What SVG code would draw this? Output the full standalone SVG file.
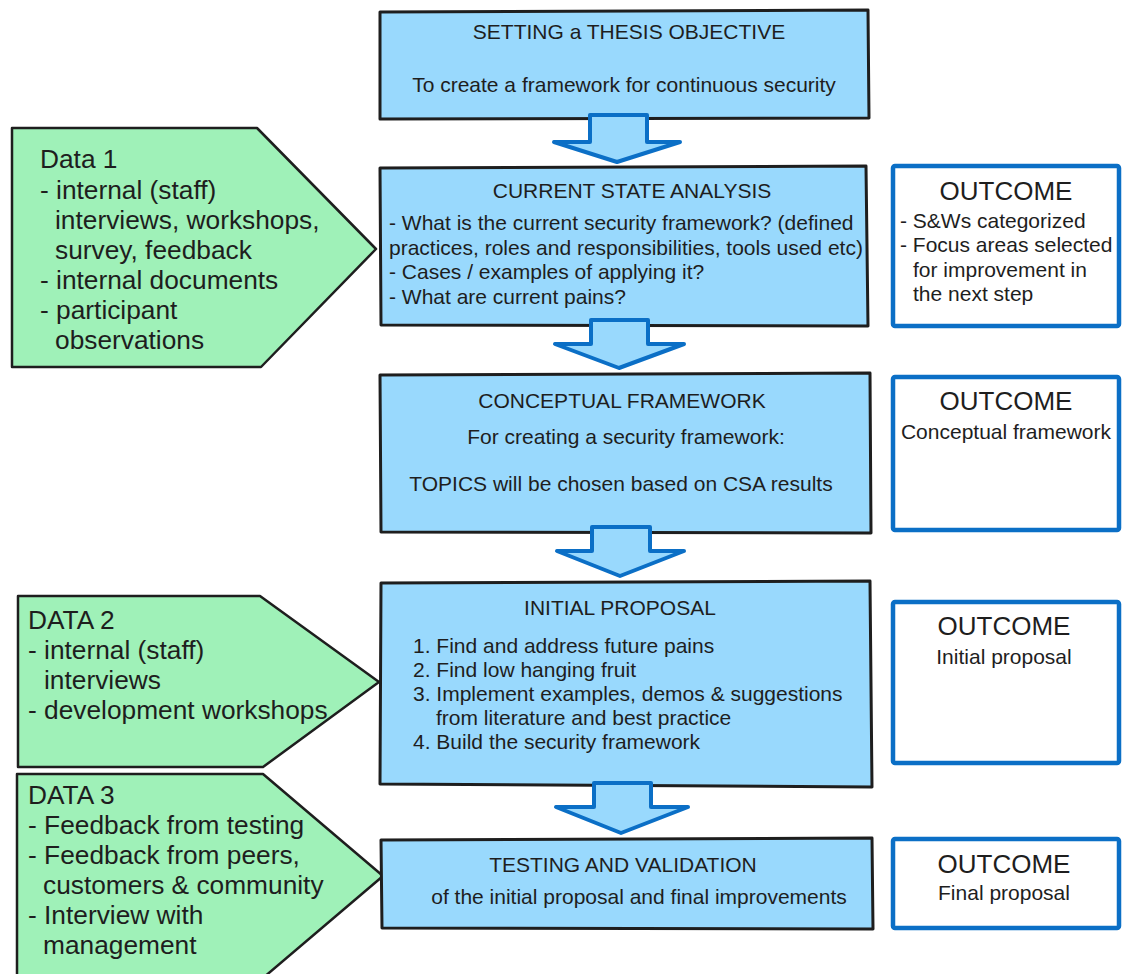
<svg xmlns="http://www.w3.org/2000/svg" width="1122" height="974" viewBox="0 0 1122 974">
  <style>
    text { font-family: "Liberation Sans", Arial, Helvetica, sans-serif; fill: #1e1e1e; }
    .step { fill: #99d9fd; stroke: #1e1e1e; stroke-width: 3; stroke-linejoin: round; }
    .data { fill: #9ff1b8; stroke: #1e1e1e; stroke-width: 2.5; stroke-linejoin: round; }
    .outcome { fill: #ffffff; stroke: #0b6fc6; stroke-width: 4.5; }
    .flow { fill: #99d9fd; stroke: #0b6fc6; stroke-width: 4; stroke-linejoin: round; }
    .t20 { font-size: 21px; }
    .t25 { font-size: 26.3px; }
    .head { font-size: 26px; }
    .mid { text-anchor: middle; }
  </style>

  <!-- data sources (input pentagons) -->
  <g id="data1">
    <path class="data" d="M12,128 L257,128 L376,249 L261,367 L12,367 Z"/>
    <text class="t25" x="40" y="168">Data 1</text>
    <text class="t25" x="40" y="199">- internal (staff)</text>
    <text class="t25" x="55" y="229">interviews, workshops,</text>
    <text class="t25" x="55" y="259">survey, feedback</text>
    <text class="t25" x="40" y="289">- internal documents</text>
    <text class="t25" x="40" y="319">- participant</text>
    <text class="t25" x="55" y="349">observations</text>
  </g>

  <g id="data2">
    <path class="data" d="M18,596 L260,596 L379,682 L263,767 L18,767 Z"/>
    <text class="t25" x="28" y="629">DATA 2</text>
    <text class="t25" x="28" y="659">- internal (staff)</text>
    <text class="t25" x="44" y="689">interviews</text>
    <text class="t25" x="28" y="719">- development workshops</text>
  </g>

  <g id="data3">
    <path class="data" d="M17,774 L263,774 L383,876 L263,978 L17,978 Z"/>
    <text class="t25" x="28" y="804">DATA 3</text>
    <text class="t25" x="28" y="834">- Feedback from testing</text>
    <text class="t25" x="28" y="864">- Feedback from peers,</text>
    <text class="t25" x="43" y="894">customers &amp; community</text>
    <text class="t25" x="28" y="924">- Interview with</text>
    <text class="t25" x="43" y="954">management</text>
  </g>

  <!-- process steps -->
  <g id="objective">
    <path class="step" d="M380,12 L868,10 L869,118 L380,119 Z"/>
    <text class="t20 mid" x="629" y="39">SETTING a THESIS OBJECTIVE</text>
    <text class="t20 mid" x="624" y="92">To create a framework for continuous security</text>
  </g>

  <g id="current-state">
    <path class="step" d="M380,168 L866,166 L868,326 L381,325 Z"/>
    <text class="t20 mid" x="632" y="198">CURRENT STATE ANALYSIS</text>
    <text class="t20" x="389" y="230">- What is the current security framework? (defined</text>
    <text class="t20" x="389" y="255">practices, roles and responsibilities, tools used etc)</text>
    <text class="t20" x="389" y="279">- Cases / examples of applying it?</text>
    <text class="t20" x="389" y="304">- What are current pains?</text>
  </g>

  <g id="conceptual">
    <path class="step" d="M380,375 L870,373 L871,533 L381,532 Z"/>
    <text class="t20 mid" x="622" y="408">CONCEPTUAL FRAMEWORK</text>
    <text class="t20 mid" x="626" y="444">For creating a security framework:</text>
    <text class="t20 mid" x="621" y="491">TOPICS will be chosen based on CSA results</text>
  </g>

  <g id="initial-proposal">
    <path class="step" d="M381,583 L870,581 L872,787 L380,784 Z"/>
    <text class="t20 mid" x="620" y="615">INITIAL PROPOSAL</text>
    <text class="t20" x="413" y="653">1. Find and address future pains</text>
    <text class="t20" x="413" y="677">2. Find low hanging fruit</text>
    <text class="t20" x="413" y="701">3. Implement examples, demos &amp; suggestions</text>
    <text class="t20" x="436" y="725">from literature and best practice</text>
    <text class="t20" x="413" y="749">4. Build the security framework</text>
  </g>

  <g id="testing">
    <path class="step" d="M381,840 L872,838 L873,929 L382,928 Z"/>
    <text class="t20 mid" x="623" y="872">TESTING AND VALIDATION</text>
    <text class="t20 mid" x="639" y="904">of the initial proposal and final improvements</text>
  </g>

  <!-- outcomes -->
  <g id="outcome1">
    <rect class="outcome" x="893" y="166" width="226" height="160" rx="2"/>
    <text class="head mid" x="1006" y="200">OUTCOME</text>
    <text class="t20" x="900" y="228">- S&amp;Ws categorized</text>
    <text class="t20" x="900" y="252">- Focus areas selected</text>
    <text class="t20" x="913" y="277">for improvement in</text>
    <text class="t20" x="913" y="301">the next step</text>
  </g>

  <g id="outcome2">
    <rect class="outcome" x="893" y="377" width="226" height="153" rx="2"/>
    <text class="head mid" x="1006" y="410">OUTCOME</text>
    <text class="t20 mid" x="1006" y="439">Conceptual framework</text>
  </g>

  <g id="outcome3">
    <rect class="outcome" x="893" y="602" width="226" height="161" rx="2"/>
    <text class="head mid" x="1004" y="635">OUTCOME</text>
    <text class="t20 mid" x="1004" y="664">Initial proposal</text>
  </g>

  <g id="outcome4">
    <rect class="outcome" x="893" y="839" width="226" height="89" rx="2"/>
    <text class="head mid" x="1004" y="873">OUTCOME</text>
    <text class="t20 mid" x="1004" y="900">Final proposal</text>
  </g>

  <!-- block arrows between steps -->
  <g id="connectors">
    <path class="flow" d="M590,115 L647,115 L647,142 L680,142 L617,162 L554,142 L590,142 Z"/>
    <path class="flow" d="M591,320 L648,320 L648,344 L684,344 L619,368 L555,344 L591,344 Z"/>
    <path class="flow" d="M592,527 L650,527 L650,551 L684,551 L620,576 L557,551 L592,551 Z"/>
    <path class="flow" d="M594,783 L651,783 L651,807 L688,807 L621,833 L556,807 L594,807 Z"/>
  </g>
</svg>
